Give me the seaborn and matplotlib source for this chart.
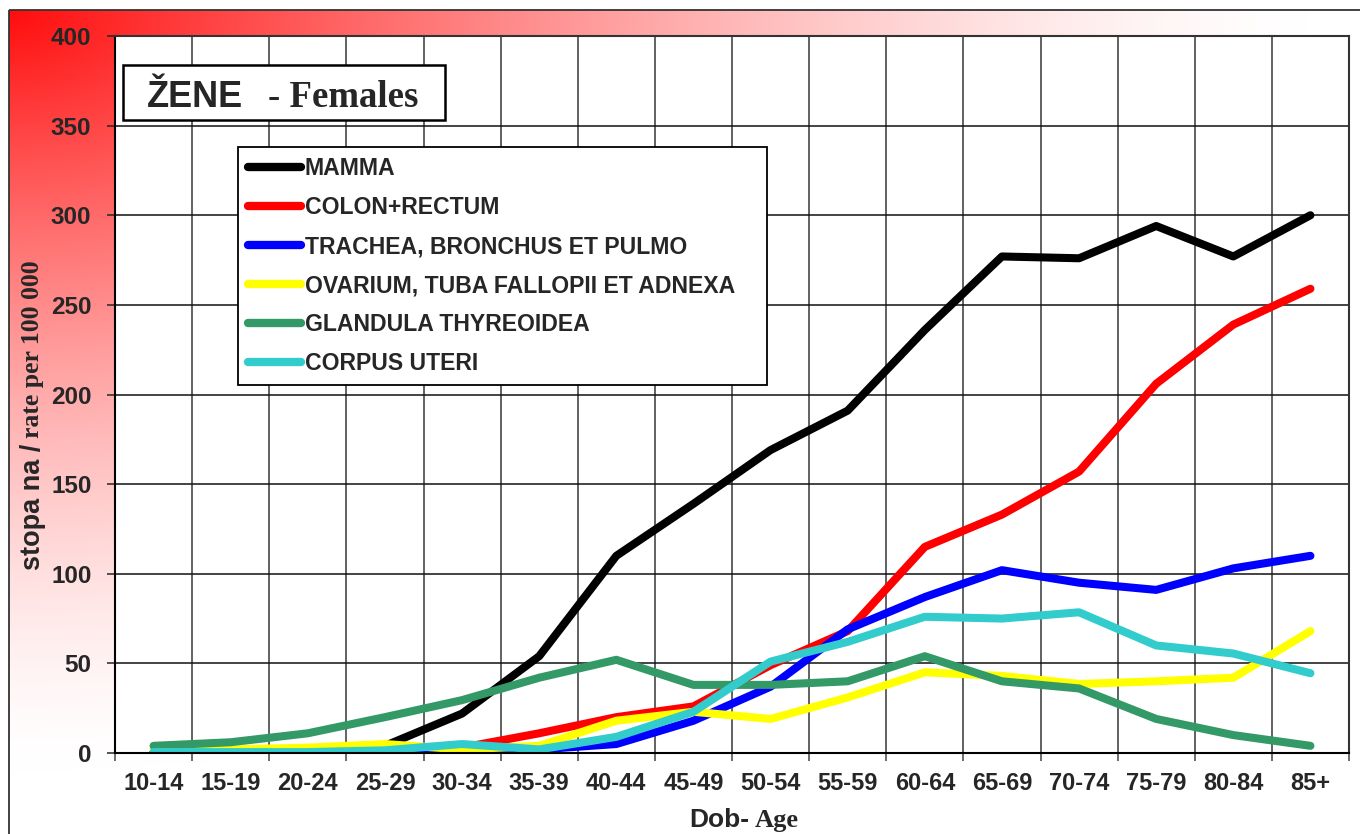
"""Cancer incidence by age group for females, with a red corner-gradient backdrop."""

import matplotlib

matplotlib.use("Agg")
import matplotlib.pyplot as plt
import numpy as np
import pandas as pd
import seaborn as sns
from matplotlib.patches import Rectangle
from matplotlib.ticker import FixedLocator, MultipleLocator

AGES = ["10-14", "15-19", "20-24", "25-29", "30-34", "35-39", "40-44", "45-49",
        "50-54", "55-59", "60-64", "65-69", "70-74", "75-79", "80-84", "85+"]
MAMMA = [0.3, 0.3, 0.5, 4, 22, 54, 110, 139, 169, 191, 236, 277, 276, 294, 277, 300]
COLON = [0.2, 0.3, 0.5, 1, 3, 11, 20, 26, 49, 68, 115, 133, 157, 206, 239, 259]
TRACHEA = [0.1, 0.1, 0.2, 0.3, 1, 2, 5, 18, 37, 69, 87, 102, 95, 91, 103, 110]
OVARIUM = [2, 2, 3, 5, 2, 4, 18, 23, 19, 31, 45, 43, 38.5, 40, 42, 68]
THYROID = [4, 6, 11, 20, 29.5, 42, 52, 38, 38, 40, 54, 40, 36, 19, 10, 4]
CORPUS = [0.5, 0.5, 0.5, 1.5, 5, 2, 9, 23, 51, 62, 76, 75, 78.5, 60, 55.5, 44.5]

SERIES = {
    "MAMMA": MAMMA,
    "COLON+RECTUM": COLON,
    "TRACHEA, BRONCHUS ET PULMO": TRACHEA,
    "OVARIUM, TUBA FALLOPII ET ADNEXA": OVARIUM,
    "GLANDULA THYREOIDEA": THYROID,
    "CORPUS UTERI": CORPUS,
}
COLORS = ["#000000", "#FF0000", "#0000FF", "#FFFF00", "#339966", "#33CCCC"]

SANS = "Liberation Sans"
SERIF = "Liberation Serif"
W, H = 1360, 834

sns.set_style("ticks")
plt.rcParams["font.family"] = [SANS, "DejaVu Sans"]
plt.rcParams["font.weight"] = "bold"

data = pd.DataFrame(
    [(age, name, value) for name, values in SERIES.items() for age, value in zip(AGES, values)],
    columns=["age", "site", "rate"],
)

fig = plt.figure(figsize=(W / 100, H / 100), dpi=100)

# background: red fading out from the top-left corner
bg = fig.add_axes([0, 0, 1, 1], zorder=-10)
yy, xx = np.mgrid[0:H, 0:W].astype(float)
r = np.sqrt(((xx - 9) / 1300) ** 2 + ((yy - 10) / 760) ** 2)
t = np.clip(1 - r, 0, 1) ** 1.5
img = np.ones((H, W, 3))
img[..., 1] -= 0.95 * t
img[..., 2] -= 0.95 * t
img[(xx < 9) | (yy < 10)] = 1.0
bg.imshow(img, extent=(0, W, H, 0), aspect="auto")
bg.add_patch(Rectangle((9, 10), W + 20, H + 20, fill=False, edgecolor="#333333", lw=1.3))
bg.set_xlim(0, W)
bg.set_ylim(H, 0)
bg.axis("off")

ax = fig.add_axes([115 / W, 1 - 753 / H, (1349 - 115) / W, (753 - 36) / H], zorder=1)
ax.set_facecolor("white")
sns.lineplot(
    data=data, x="age", y="rate", hue="site", hue_order=list(SERIES),
    palette=COLORS, linewidth=5.8, solid_capstyle="round", sort=False, ax=ax,
)

ax.set_xlim(-0.5, len(AGES) - 0.5)
ax.set_ylim(0, 400)
ax.yaxis.set_major_locator(MultipleLocator(50))
ax.xaxis.set_minor_locator(FixedLocator(np.arange(len(AGES) + 1) - 0.5))
ax.set_axisbelow(True)
ax.grid(axis="y", which="major", color="#111111", lw=1.1)
ax.grid(axis="x", which="minor", color="#555555", lw=1.3)
ax.grid(axis="x", which="major", visible=False)
ax.tick_params(axis="x", which="major", length=0, pad=14, labelsize=17)
ax.tick_params(axis="x", which="minor", length=6, width=1.1, color="#444444", direction="out")
ax.tick_params(axis="y", length=6, width=1.1, direction="out", pad=11, labelsize=17.5)
for label in ax.get_xticklabels() + ax.get_yticklabels():
    label.set_fontweight("bold")
for side in ["left", "bottom"]:
    ax.spines[side].set_color("black")
    ax.spines[side].set_linewidth(1.5)
for side in ["top", "right"]:
    ax.spines[side].set_color("#333333")
    ax.spines[side].set_linewidth(1.5)
ax.set_xlabel("")
ax.set_ylabel("")

handles, labels = ax.get_legend_handles_labels()
leg = ax.legend(
    handles, labels, loc="upper left",
    bbox_to_anchor=(238 / W, 1 - 147 / H, (767 - 238) / W, 0.0),
    bbox_transform=fig.transFigure, mode="expand", borderaxespad=0,
    frameon=True, fancybox=False, framealpha=1, edgecolor="black",
    prop={"family": SANS, "weight": "bold", "size": 16.6},
    handlelength=2.3, handletextpad=0.15, labelspacing=0.69, borderpad=0.45,
)
leg.get_frame().set_linewidth(1.3)
for line in leg.get_lines():
    line.set_linewidth(6)
    line.set_solid_capstyle("round")

# overlay in pixel coordinates for the title box and mixed-font axis labels
ov = fig.add_axes([0, 0, 1, 1], zorder=5)
ov.set_xlim(0, W)
ov.set_ylim(H, 0)
ov.axis("off")
ov.add_patch(Rectangle((123, 65), 322, 55, facecolor="white", edgecolor="black", lw=1.8))
ov.text(147, 107, "ŽENE", family=SANS, weight="bold", fontsize=26, va="baseline")
ov.text(268, 107, "- Females", family=SERIF, weight="bold", fontsize=26.5, va="baseline")

ylab = ov.text(33, 570, "stopa na /", family=SANS, weight="bold", fontsize=19.5,
               rotation=90, ha="center", va="bottom")
renderer = fig.canvas.get_renderer()
sans_len = ylab.get_window_extent(renderer).height
ov.text(33, 570 - sans_len - 6, "rate per 100 000", family=SERIF, weight="bold",
        fontsize=18.5, rotation=90, ha="center", va="bottom")

ov.text(749, 827, "Dob-", family=SANS, weight="bold", fontsize=19, ha="right", va="baseline")
ov.text(755, 827, "Age", family=SERIF, weight="bold", fontsize=19, ha="left", va="baseline")

fig.savefig("out.png", dpi=100)
